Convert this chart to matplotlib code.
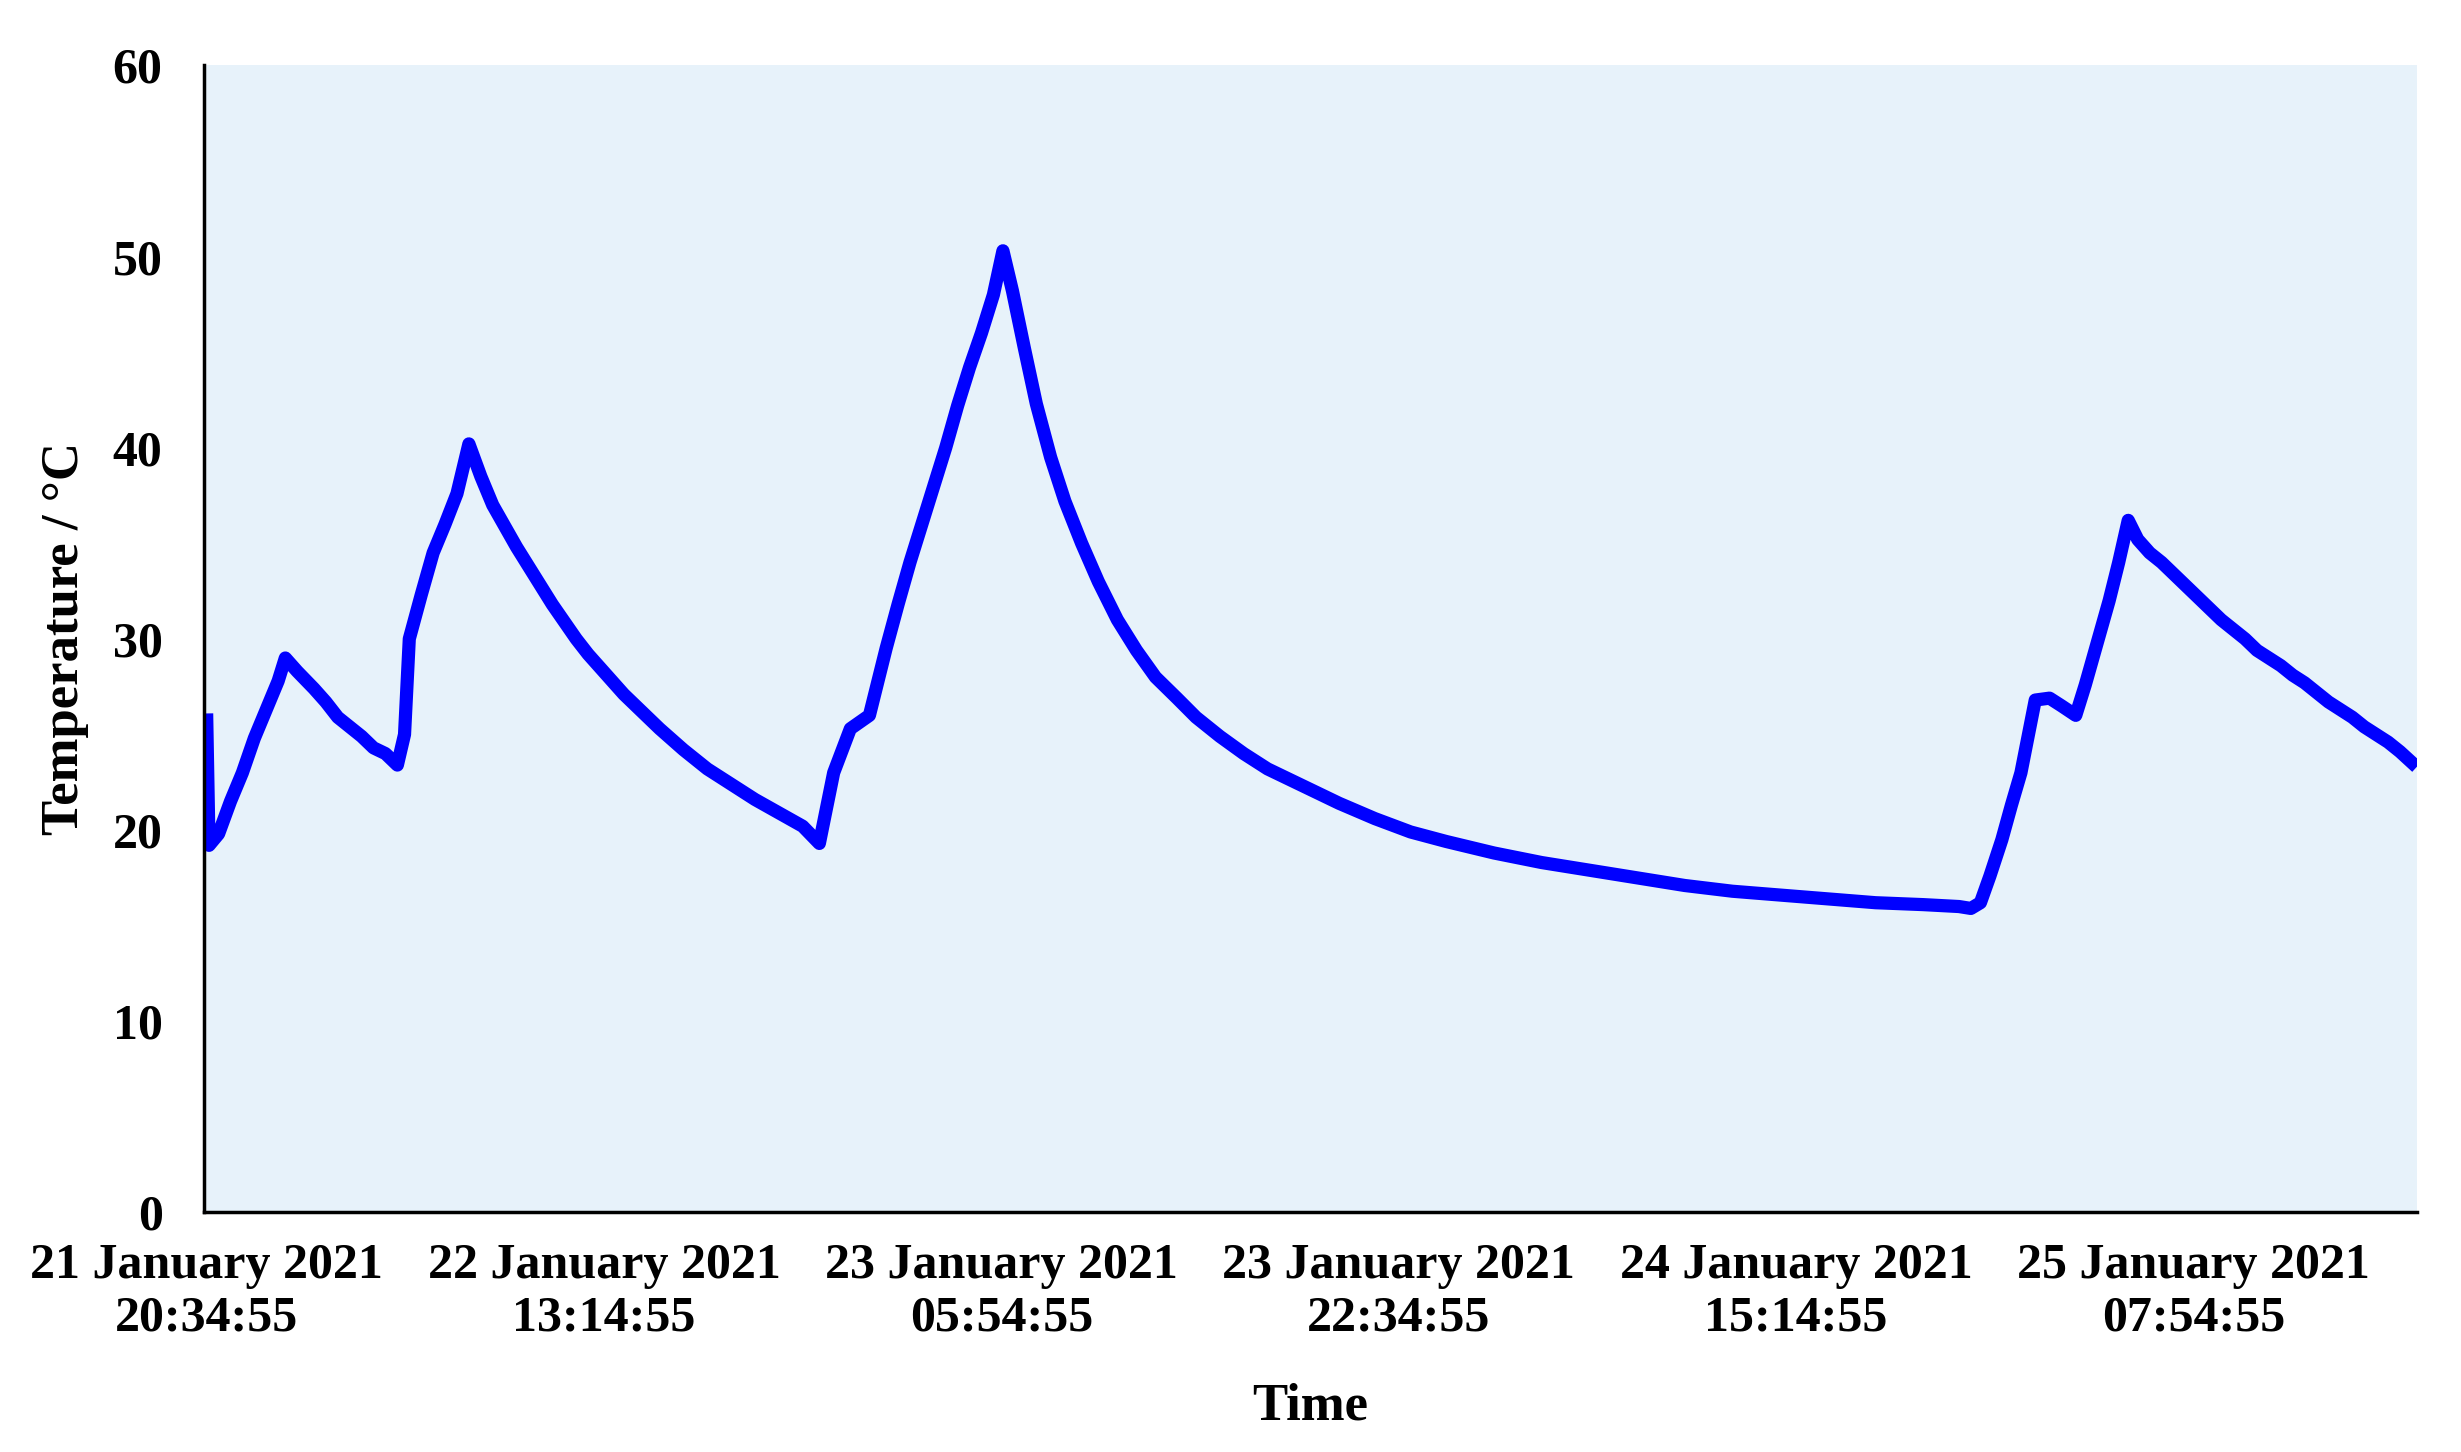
import numpy as np
import matplotlib
matplotlib.use("Agg")
import matplotlib.pyplot as plt

# hours since 21 January 2021 20:34:55
hours = [0.0, 0.1, 0.5, 1.0, 1.5, 2.0, 2.5, 3.0, 3.3, 3.8, 4.5, 5.0, 5.5, 6.0,
         6.5, 7.0, 7.5, 8.0, 8.3, 8.5, 9.0, 9.5, 10.0, 10.5, 11.0, 11.5,
         12.0, 12.5, 13.0, 13.5, 14.0, 14.5, 15.0, 15.5, 16.0, 16.5, 17.0,
         17.5, 18.0, 19.0, 20.0, 21.0, 22.0, 23.0, 24.0, 25.0, 25.7, 26.3,
         27.0, 27.8, 28.5, 29.0, 29.5, 30.0, 30.5, 31.0, 31.5, 32.0, 32.5,
         33.0, 33.4, 33.8, 34.3, 34.8, 35.4, 36.0, 36.7, 37.4, 38.2, 39.0,
         39.8, 40.7, 41.5, 42.5, 43.5, 44.5, 45.5, 46.5, 47.5, 49.0, 50.5,
         52.0, 54.0, 56.0, 58.0, 60.0, 62.0, 64.0, 66.0, 68.0, 70.0, 72.0,
         73.5, 74.0, 74.4, 74.8, 75.3, 75.7, 76.1, 76.7, 77.3, 77.8, 78.4,
         78.8, 79.3, 79.8, 80.2, 80.6, 81.0, 81.5, 82.0, 82.5, 83.0, 83.5,
         84.0, 84.5, 85.0, 85.5, 86.0, 86.5, 87.0, 87.5, 88.0, 88.5, 89.0,
         89.5, 90.0, 90.5, 91.0, 91.5, 92.0, 92.7]
temps = [26.1, 19.2, 19.8, 21.5, 23.0, 24.8, 26.3, 27.8, 29.0, 28.3, 27.4, 26.7, 25.9, 25.4,
         24.9, 24.3, 24.0, 23.4, 25.0, 30.0, 32.3, 34.5, 36.0, 37.6, 40.2, 38.5,
         37.0, 35.9, 34.8, 33.8, 32.8, 31.8, 30.9, 30.0, 29.2, 28.5, 27.8,
         27.1, 26.5, 25.3, 24.2, 23.2, 22.4, 21.6, 20.9, 20.2, 19.3, 23.0,
         25.3, 26.0, 29.5, 31.8, 34.0, 36.0, 38.0, 40.0, 42.2, 44.2, 46.0,
         48.0, 50.3, 48.2, 45.2, 42.3, 39.5, 37.2, 35.0, 33.0, 31.0, 29.4,
         28.0, 26.9, 25.9, 24.9, 24.0, 23.2, 22.6, 22.0, 21.4, 20.6, 19.9,
         19.4, 18.8, 18.3, 17.9, 17.5, 17.1, 16.8, 16.6, 16.4, 16.2, 16.1,
         16.0, 15.9, 16.2, 17.6, 19.5, 21.3, 23.0, 26.8, 26.9, 26.5, 26.0,
         27.6, 29.8, 32.0, 34.0, 36.2, 35.2, 34.5, 34.0, 33.4, 32.8, 32.2,
         31.6, 31.0, 30.5, 30.0, 29.4, 29.0, 28.6, 28.1, 27.7, 27.2, 26.7,
         26.3, 25.9, 25.4, 25.0, 24.6, 24.1, 23.3]

tick_hours = [0, 1000 / 60, 2000 / 60, 3000 / 60, 4000 / 60, 5000 / 60]
tick_labels = ["21 January 2021\n20:34:55", "22 January 2021\n13:14:55",
               "23 January 2021\n05:54:55", "23 January 2021\n22:34:55",
               "24 January 2021\n15:14:55", "25 January 2021\n07:54:55"]

plt.rcParams['font.family'] = ['Liberation Serif', 'DejaVu Serif']
plt.rcParams['font.weight'] = 'bold'

fig = plt.figure(figsize=(24.61, 14.52), dpi=100)
ax = fig.add_axes([0.083, 0.165, 0.899, 0.79])
ax.set_facecolor('#E7F2FA')
ax.plot(hours, temps, color='#0000FF', lw=9.5, solid_joinstyle='round',
        solid_capstyle='butt')

ax.set_xlim(-0.1, 92.7)
ax.set_ylim(0, 60)
ax.set_yticks(np.arange(0, 61, 10))
ax.set_xticks(tick_hours)
ax.set_xticklabels(tick_labels)
ax.tick_params(length=0, labelsize=36)
ax.tick_params(axis='y', pad=30)
ax.tick_params(axis='x', pad=22)
for lbl in ax.get_xticklabels() + ax.get_yticklabels():
    lbl.set_fontweight('bold')

for s in ['top', 'right']:
    ax.spines[s].set_visible(False)
for s in ['left', 'bottom']:
    ax.spines[s].set_color('black')
    ax.spines[s].set_linewidth(2.5)

ax.set_ylabel("Temperature / °C", fontsize=38, fontweight='bold')
ax.set_xlabel("Time", fontsize=38, fontweight='bold')
ax.yaxis.set_label_coords(-0.052, 0.5)
ax.xaxis.set_label_coords(0.5, -0.148)
ax.xaxis.label.set_va('top')

fig.savefig("out.png", dpi=100)
